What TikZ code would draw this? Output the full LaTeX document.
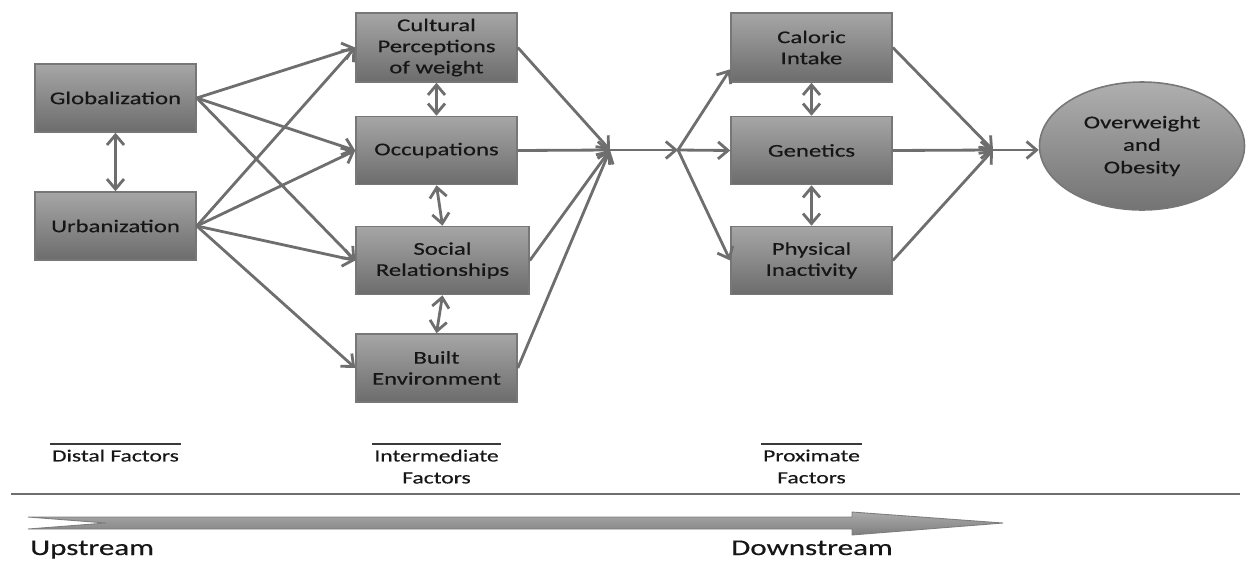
\documentclass[tikz,border=0pt]{standalone}
\usepackage{fontspec}
\setmainfont{Carlito}[FakeStretch=1.38, FakeBold=0.4]
\usetikzlibrary{positioning, arrows.meta, shapes.geometric, calc}
\definecolor{ink}{HTML}{161616}
\definecolor{wire}{HTML}{6E6E6E}
\definecolor{boxtop}{HTML}{A6A6A6}
\definecolor{boxbot}{HTML}{6C6C6C}
\definecolor{boxline}{HTML}{777777}
\definecolor{bandtop}{HTML}{ABABAB}
\definecolor{bandbot}{HTML}{7E7E7E}
\tikzset{
  factor/.style={draw=boxline, line width=0.9pt, top color=boxtop, bottom color=boxbot,
                 minimum width=32.2mm, minimum height=13.6mm, align=center, text=ink,
                 font=\fontsize{10.2}{12}\selectfont, inner sep=1pt},
  link/.style={-{Straight Barb[length=2mm, width=3.4mm]}, line width=1.6pt, draw=wire},
  twoway/.style={{Straight Barb[length=2mm, width=3.4mm]}-{Straight Barb[length=2mm, width=3.4mm]},
                 line width=1.6pt, draw=wire},
  level/.style={align=center, text=ink, font=\fontsize{9.7}{12.5}\selectfont,
                inner xsep=1pt, inner ysep=3pt, anchor=north},
}

\begin{document}
\begin{tikzpicture}[x=0.2mm, y=-0.2mm]
  \useasboundingbox (0,0) rectangle (1256,562);
  % distal factors
  \node[factor] (glob) at (115.5,98) {Globalization};
  \node[factor] (urb) at (115.5,226) {Urbanization};
  % intermediate factors
  \node[factor, minimum height=13.8mm] (cult) at (436.5,47.5) {Cultural\\Perceptions\\of weight};
  \node[factor] (occ) at (436.5,150.5) {Occupations};
  \node[factor, minimum width=34.6mm] (soc) at (442.5,260.5) {Social\\Relationships};
  \node[factor] (built) at (436.5,368) {Built\\Environment};
  % proximate factors
  \node[factor, minimum height=13.8mm] (cal) at (811.5,47.5) {Caloric\\Intake};
  \node[factor] (gen) at (811.5,150.5) {Genetics};
  \node[factor] (phys) at (811.5,260.5) {Physical\\Inactivity};
  % outcome
  \node[ellipse, draw=boxline, line width=0.9pt, top color=boxtop!90, bottom color=boxbot!95!white,
        minimum width=41mm, minimum height=25.6mm, inner sep=0pt, align=center, text=ink,
        font=\fontsize{10.2}{12.8}\selectfont] (obes) at (1142,146) {Overweight\\and\\Obesity};
  % junctions
  \coordinate (j1) at (610,150);
  \coordinate (j2) at (678,150);
  \coordinate (j3) at (993,150);

  % distal -> intermediate
  \draw[twoway] (glob.south) -- (urb.north);
  \foreach \t in {cult,occ,soc} \draw[link] (glob.east) -- (\t.west);
  \foreach \t in {cult,occ,soc,built} \draw[link] (urb.east) -- (\t.west);
  \draw[twoway] (cult.south) -- (occ.north);
  \draw[twoway] (occ.south) -- (soc.north);
  \draw[twoway] (soc.south) -- (built.north);
  % intermediate -> proximate
  \foreach \s in {cult,occ,soc,built} \draw[link] (\s.east) -- (j1);
  \draw[link] (j1) -- (j2);
  \draw[link] (j2) -- (cal.195);
  \draw[link] (j2) -- (gen.west);
  \draw[link] (j2) -- (phys.west);
  \draw[twoway] (cal.south) -- (gen.north);
  \draw[twoway] (gen.south) -- (phys.north);
  % proximate -> outcome
  \foreach \s in {cal,gen,phys} \draw[link] (\s.east) -- (j3);
  \draw[link] (j3) -- (j3 -| obes.west);

  % levels
  \node[level] (distal) at (115.5,444) {Distal Factors};
  \node[level] (inter) at (436.5,444) {Intermediate\\Factors};
  \node[level] (prox) at (811.5,444) {Proximate\\Factors};
  \foreach \l in {distal,inter,prox}
    \draw[line width=0.8pt, draw=ink!85] (\l.north west) -- (\l.north east);
  \draw[line width=1.3pt, draw=wire] (11,494) -- (1240,494);

  % upstream to downstream
  \shade[top color=bandtop, bottom color=bandbot, draw=wire!90, line width=0.5pt]
    (28,517) -- (852,517) -- (852,512) -- (1003,523) -- (852,535) -- (852,529)
    -- (28,529) -- (106,523) -- cycle;
  \node[anchor=base west, text=ink, font=\fontsize{12.8}{14}\selectfont] (up) at (24,555) {Upstream};
  \node[anchor=base, text=ink, font=\fontsize{12.8}{14}\selectfont] (down) at (812,555) {Downstream};
\end{tikzpicture}
\end{document}
